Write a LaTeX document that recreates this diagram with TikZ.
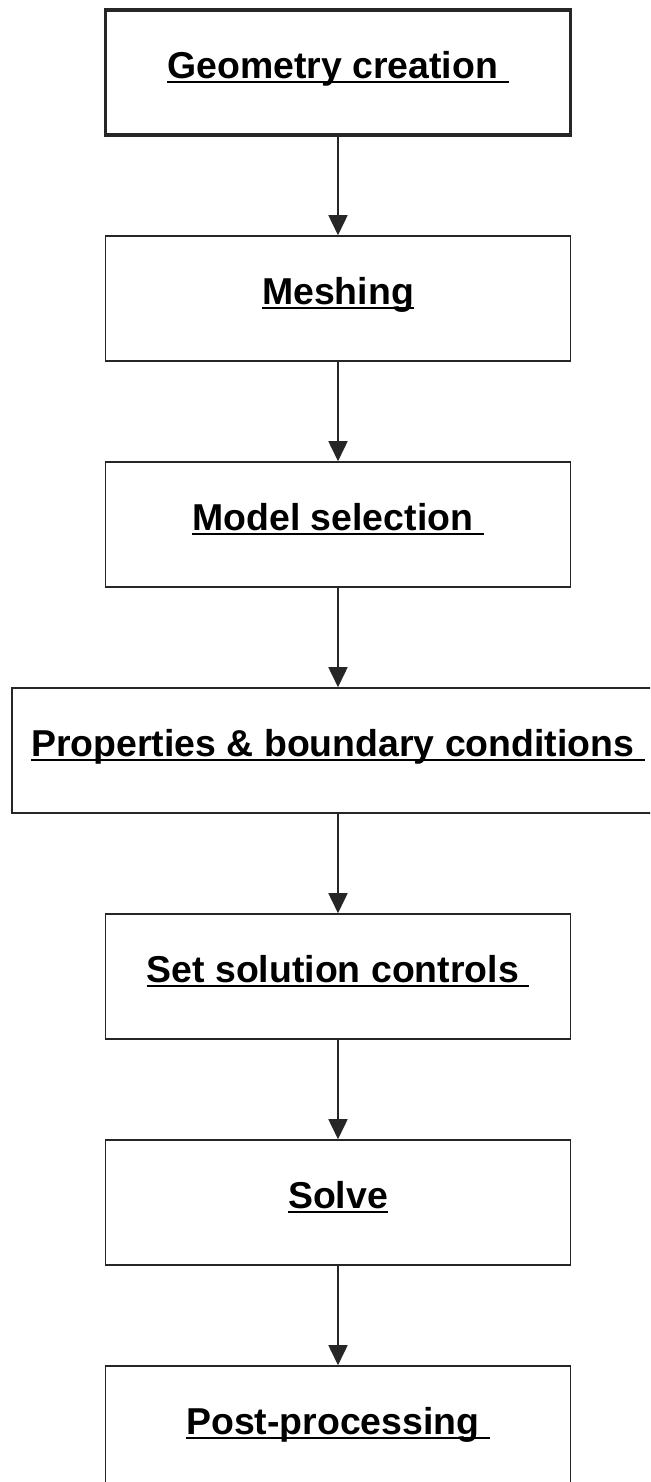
\documentclass[tikz,border=0pt]{standalone}
\usepackage{fontspec}
\setmainfont{Liberation Sans}
\usetikzlibrary{arrows.meta}
\newcommand{\UL}[1]{\setbox0\hbox{#1}\rlap{\rule[-0.11em]{\wd0}{0.055em}}\box0}

\begin{document}
\begin{tikzpicture}[x=0.02cm,y=-0.02cm,
    stage/.style={draw=black!85,line width=0.9pt,minimum width=9.3cm,minimum height=2.5cm,
      inner sep=0pt,text height=0.716em,text depth=0pt,
      font=\fontsize{21.3}{25}\selectfont\bfseries},
    flow/.style={draw=black!85,line width=0.9pt,-{Triangle[length=0.4cm,width=0.38cm]}}]
    \useasboundingbox (0,0) rectangle (650,1482);
    \clip (0,0) rectangle (650,1482);

    \node[stage,line width=1.8pt] (geo) at (338,72.5) {\UL{Geometry creation\ }};
    \node[stage] (mesh) at (338,298.5) {\UL{Meshing}};
    \node[stage] (model) at (338,524.5) {\UL{Model selection\ }};
    \node[stage,minimum width=13.04cm] (bc) at (338,750.5) {\UL{Properties \& boundary conditions\ }};
    \node[stage] (ctrl) at (338,976.5) {\UL{Set solution controls\ }};
    \node[stage] (solve) at (338,1202.5) {\UL{Solve}};
    \node[stage] (post) at (338,1428.5) {\UL{Post-processing\ }};

    \foreach \a/\b in {geo/mesh,mesh/model,model/bc,bc/ctrl,ctrl/solve,solve/post} {
        \draw[flow] (\a) -- (\b);
    }
\end{tikzpicture}
\end{document}
